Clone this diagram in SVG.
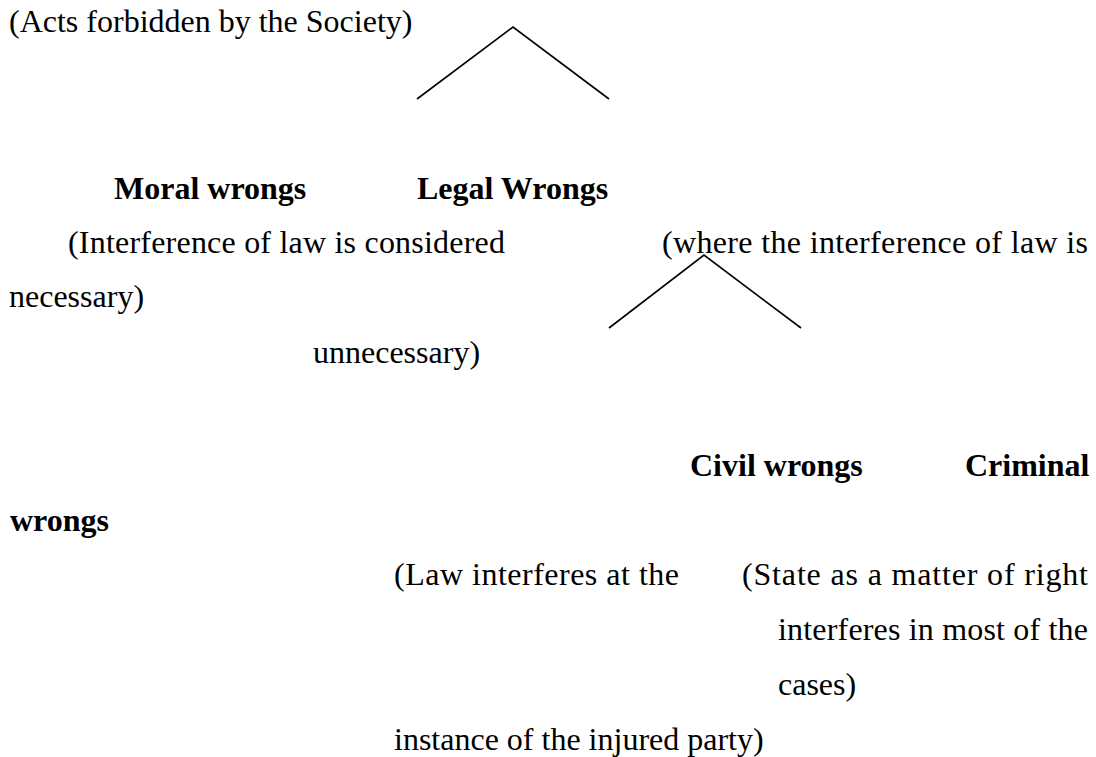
<svg xmlns="http://www.w3.org/2000/svg" width="1096" height="757" viewBox="0 0 1096 757">
<style>
text{font-family:"Liberation Serif","Times New Roman",serif;font-size:32px;fill:#000}
.b{font-weight:bold}
.ln{stroke:#000;stroke-width:1.6;fill:none}
</style>
<rect x="0" y="0" width="1096" height="757" fill="#fff"/>
<g id="connectors">
<polyline class="ln" points="417,99 513,27 609,99"/>
<polyline class="ln" points="609,328 704,255 801,328"/>
</g>
<g id="acts"><text x="9" y="32">(Acts forbidden by the Society)</text></g>
<g id="moral"><text class="b" x="114" y="199">Moral wrongs</text></g>
<g id="legal"><text class="b" x="417" y="199">Legal Wrongs</text></g>
<g id="moral-desc">
<text x="68" y="253" textLength="437" lengthAdjust="spacing">(Interference of law is considered</text>
<text x="9" y="307">necessary)</text>
<text x="313" y="363">unnecessary)</text>
</g>
<g id="legal-desc"><text x="662" y="253" textLength="426" lengthAdjust="spacing">(where the interference of law is</text></g>
<g id="civil"><text class="b" x="690" y="476">Civil wrongs</text></g>
<g id="criminal">
<text class="b" x="965" y="476">Criminal</text>
<text class="b" x="10" y="531">wrongs</text>
</g>
<g id="civil-desc">
<text x="394" y="585" textLength="285" lengthAdjust="spacing">(Law interferes at the</text>
<text x="394" y="750">instance of the injured party)</text>
</g>
<g id="criminal-desc">
<text x="742" y="585" textLength="346" lengthAdjust="spacing">(State as a matter of right</text>
<text x="778" y="640" textLength="310" lengthAdjust="spacing">interferes in most of the</text>
<text x="778" y="695">cases)</text>
</g>
</svg>
